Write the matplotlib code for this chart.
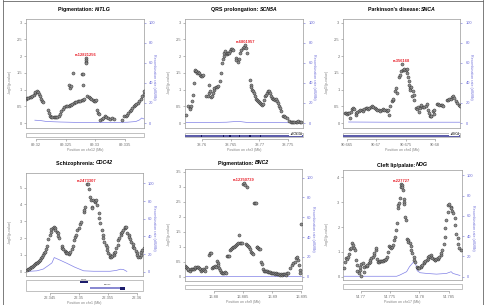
import numpy as np
import matplotlib.pyplot as plt
from matplotlib.patches import Rectangle
from matplotlib.lines import Line2D

plt.rcParams['font.family'] = ['Liberation Sans', 'DejaVu Sans']

# ---- KITLG (chr12) ----
kitlg_pos = [89.3183, 89.3185, 89.3187, 89.3190, 89.3192, 89.3194, 89.3196, 89.3198, 89.3199, 89.3201,
             89.3203, 89.3205, 89.3206, 89.3208, 89.3210, 89.3211,
             89.3220, 89.3222, 89.3223, 89.3225, 89.3227, 89.3230, 89.3232, 89.3234, 89.3236, 89.3239,
             89.3241, 89.3243, 89.3246, 89.3248, 89.3250, 89.3252, 89.3255, 89.3257, 89.3259, 89.3261,
             89.3264, 89.3266, 89.3268, 89.3271, 89.3273, 89.3275, 89.3277, 89.3280, 89.3281,
             89.3255, 89.3258, 89.3260, 89.3263, 89.3277, 89.3280, 89.3279, 89.3284, 89.3284, 89.3285, 89.3285,
             89.3286, 89.3289, 89.3291, 89.3293, 89.3296, 89.3298, 89.3300, 89.3302, 89.3304, 89.3305,
             89.3307, 89.3309, 89.3312, 89.3314, 89.3317, 89.3319, 89.3322, 89.3325, 89.3329, 89.3332,
             89.3345, 89.3349, 89.3352, 89.3354, 89.3356, 89.3359, 89.3361, 89.3363, 89.3366, 89.3368,
             89.3370, 89.3372, 89.3375, 89.3377, 89.3379, 89.3382, 89.3383]
kitlg_logp = [0.73, 0.75, 0.76, 0.77, 0.78, 0.80, 0.85, 0.90, 0.93, 0.95,
              0.93, 0.88, 0.80, 0.72, 0.67, 0.63,
              0.38, 0.30, 0.22, 0.18, 0.17, 0.17, 0.17, 0.17, 0.17, 0.20,
              0.28, 0.35, 0.42, 0.47, 0.50, 0.50, 0.52, 0.53, 0.55, 0.57,
              0.60, 0.62, 0.64, 0.65, 0.66, 0.67, 0.69, 0.70, 0.72,
              1.15, 1.05, 1.12, 1.50, 1.48, 1.47, 1.15, 1.95, 1.87, 1.83, 1.79,
              0.80, 0.78, 0.76, 0.73, 0.70, 0.67, 0.65, 0.70, 0.40, 0.30,
              0.27, 0.10, 0.12, 0.15, 0.20, 0.18, 0.15, 0.13, 0.14, 0.13,
              0.08, 0.20, 0.22, 0.25, 0.30, 0.35, 0.40, 0.45, 0.50, 0.55,
              0.58, 0.60, 0.65, 0.72, 0.80, 0.88, 0.95]
kitlg_rec_pos = [89.3198, 89.3207, 89.3218, 89.3241, 89.3269, 89.3298, 89.3326, 89.3355, 89.3369, 89.3375, 89.3379, 89.3383]
kitlg_rec = [2.8, 2.5, 1.5, 1.0, 0.6, 0.4, 0.5, 0.8, 1.5, 3.0, 5.0, 4.0]

# ---- SCN10A region (chr3) ----
scn_pos = [38.7573, 38.7576, 38.7579, 38.7580, 38.7581, 38.7583, 38.7584, 38.7586, 38.7588, 38.7589,
           38.7590, 38.7592, 38.7594, 38.7595, 38.7597, 38.7599, 38.7601, 38.7603, 38.7607, 38.7610,
           38.7612, 38.7613, 38.7614, 38.7616, 38.7617, 38.7619, 38.7621, 38.7622, 38.7624, 38.7626,
           38.7629, 38.7632, 38.7633, 38.7635, 38.7636, 38.7638, 38.7639, 38.7641, 38.7643, 38.7644,
           38.7646, 38.7648, 38.7649, 38.7651, 38.7653, 38.7655, 38.7659, 38.7660, 38.7662, 38.7664,
           38.7666, 38.7668, 38.7671, 38.7673, 38.7675, 38.7676, 38.7678, 38.7683, 38.7685, 38.7686,
           38.7687, 38.7689, 38.7691, 38.7693, 38.7694, 38.7696, 38.7698, 38.7699, 38.7701, 38.7703,
           38.7705, 38.7706, 38.7708, 38.7710, 38.7712, 38.7713, 38.7715, 38.7717, 38.7718, 38.7720,
           38.7722, 38.7724, 38.7725, 38.7727, 38.7729, 38.7731, 38.7732, 38.7734, 38.7736, 38.7737,
           38.7740, 38.7742, 38.7744, 38.7747, 38.7751, 38.7754, 38.7756, 38.7758, 38.7760, 38.7763,
           38.7765, 38.7767, 38.7770, 38.7772]
scn_logp = [0.25, 0.50, 0.45, 0.42, 0.52, 0.65, 0.85, 1.20, 1.55, 1.60,
            1.57, 1.50, 1.53, 1.50, 1.45, 1.42, 1.40, 1.45, 0.82, 0.80,
            0.90, 1.15, 0.95, 0.78, 0.82, 0.90, 1.00, 1.05, 1.08, 1.07,
            1.10, 1.25, 1.50, 1.80, 1.90, 2.00, 2.10, 2.15, 2.05, 2.10,
            2.08, 2.10, 2.15, 2.20, 2.20, 2.17, 1.95, 1.87, 1.82, 1.90,
            2.10, 2.17, 2.23, 2.28, 2.33, 2.23, 2.10, 1.30, 1.15, 1.07,
            1.00, 0.95, 0.90, 0.80, 0.72, 0.68, 0.65, 0.62, 0.60, 0.58,
            0.55, 0.58, 0.70, 0.80, 0.85, 0.90, 0.95, 0.97, 0.91, 0.80,
            0.75, 0.72, 0.72, 0.70, 0.72, 0.65, 0.60, 0.50, 0.45, 0.35,
            0.20, 0.20, 0.18, 0.15, 0.05, 0.03, 0.04, 0.03, 0.04, 0.03,
            0.04, 0.05, 0.04, 0.03]
scn_rec_pos = [38.7573, 38.7614, 38.7643, 38.7658, 38.7666, 38.7678, 38.7718, 38.7775]
scn_rec = [0.5, 0.5, 0.8, 1.5, 1.5, 0.6, 0.4, 0.3]
scn_exons = [38.7600, 38.7637, 38.7649, 38.7666, 38.7682, 38.7684, 38.7701]

# ---- SNCA (chr4) ----
snca_pos = [90.6647, 90.6649, 90.6651, 90.6652, 90.6654, 90.6656, 90.6657, 90.6659, 90.6661, 90.6662,
            90.6665, 90.6666, 90.6668, 90.6670, 90.6673, 90.6675, 90.6677, 90.6679, 90.6682, 90.6684,
            90.6686, 90.6688, 90.6691, 90.6693, 90.6695, 90.6698, 90.6700, 90.6702, 90.6704, 90.6707,
            90.6709, 90.6711, 90.6713, 90.6716, 90.6718, 90.6720, 90.6722, 90.6724, 90.6726, 90.6728,
            90.6729, 90.6732, 90.6734, 90.6736, 90.6738, 90.6740, 90.6742, 90.6743, 90.6745, 90.6747,
            90.6748, 90.6750, 90.6752, 90.6753, 90.6754, 90.6755, 90.6756, 90.6757, 90.6758, 90.6759,
            90.6760, 90.6762, 90.6764, 90.6765, 90.6767, 90.6769, 90.6771, 90.6772, 90.6774, 90.6776,
            90.6777, 90.6779, 90.6781, 90.6784, 90.6786, 90.6788, 90.6789, 90.6791, 90.6793, 90.6794,
            90.6796, 90.6798, 90.6799, 90.6803, 90.6805, 90.6807, 90.6810, 90.6812, 90.6814, 90.6820,
            90.6822, 90.6824, 90.6827, 90.6829, 90.6831, 90.6833, 90.6836, 90.6838, 90.6840, 90.6842]
snca_logp = [0.30, 0.30, 0.28, 0.29, 0.30, 0.15, 0.32, 0.42, 0.45, 0.42,
             0.25, 0.30, 0.32, 0.35, 0.38, 0.40, 0.35, 0.42, 0.45, 0.44,
             0.42, 0.45, 0.48, 0.50, 0.48, 0.45, 0.42, 0.40, 0.38, 0.35,
             0.40, 0.42, 0.38, 0.40, 0.35, 0.40, 0.25, 0.50, 0.65, 0.70,
             0.72, 0.95, 1.05, 0.90, 1.38, 1.45, 1.55, 1.77, 1.60, 1.60,
             1.62, 1.60, 1.62, 1.50, 1.38, 1.25, 1.15, 1.05, 1.00, 1.08,
             0.82, 0.95, 0.70, 0.85, 0.45, 0.42, 0.48, 0.32, 0.45, 0.50,
             0.55, 0.47, 0.48, 0.50, 0.58, 0.40, 0.30, 0.20, 0.22, 0.20,
             0.35, 0.40, 0.27, 0.58, 0.58, 0.55, 0.55, 0.55, 0.50, 0.68,
             0.70, 0.72, 0.73, 0.78, 0.80, 0.75, 0.65, 0.60, 0.55, 0.50]
snca_rec_pos = [90.6653, 90.6718, 90.6775, 90.6842]
snca_rec = [1.0, 0.8, 0.8, 0.8]

# ---- CDC42 (chr1) ----
cdc42_pos = [22.3410, 22.3411, 22.3413, 22.3415, 22.3417, 22.3418, 22.3420, 22.3422, 22.3423, 22.3425,
             22.3427, 22.3429, 22.3430, 22.3432, 22.3434, 22.3436, 22.3437, 22.3439, 22.3441, 22.3442,
             22.3444, 22.3447, 22.3449, 22.3451, 22.3452, 22.3454, 22.3456, 22.3458, 22.3459, 22.3461,
             22.3463, 22.3464, 22.3466, 22.3470, 22.3471, 22.3473, 22.3475, 22.3477, 22.3478, 22.3480,
             22.3482, 22.3483, 22.3485, 22.3487, 22.3489, 22.3492, 22.3493, 22.3495, 22.3497, 22.3500,
             22.3502, 22.3504, 22.3508, 22.3509, 22.3511, 22.3513, 22.3515, 22.3517, 22.3519, 22.3520,
             22.3522, 22.3523, 22.3525, 22.3527, 22.3528, 22.3530, 22.3532, 22.3534, 22.3535, 22.3537,
             22.3539, 22.3541, 22.3542, 22.3544, 22.3546, 22.3548, 22.3549, 22.3551, 22.3553, 22.3554,
             22.3556, 22.3558, 22.3560, 22.3561, 22.3563, 22.3565, 22.3567, 22.3568, 22.3570, 22.3572,
             22.3573, 22.3575, 22.3577, 22.3579, 22.3580, 22.3582, 22.3584, 22.3586, 22.3587, 22.3589,
             22.3591, 22.3593, 22.3594, 22.3596, 22.3598, 22.3600, 22.3601, 22.3603, 22.3605, 22.3607,
             22.3608, 22.3610, 22.3612]
cdc42_logp = [0.10, 0.14, 0.16, 0.20, 0.26, 0.30, 0.36, 0.40, 0.44, 0.50,
              0.54, 0.60, 0.63, 0.70, 0.80, 0.90, 1.00, 1.10, 1.20, 1.33,
              1.50, 1.92, 2.18, 2.38, 2.52, 2.62, 2.64, 2.58, 2.48, 2.38,
              2.28, 2.12, 1.98, 1.50, 1.40, 1.33, 1.25, 1.17, 1.13, 1.10,
              1.07, 1.10, 1.20, 1.33, 1.50, 1.88, 2.08, 2.18, 2.48, 2.58,
              2.84, 2.98, 3.57, 3.70, 3.87, 5.22, 5.22, 4.90, 4.46, 4.27,
              3.87, 3.81, 4.27, 4.17, 4.23, 4.27, 3.97, 3.47, 3.17, 2.88,
              2.48, 2.18, 1.98, 1.79, 1.59, 1.45, 1.29, 1.09, 0.99, 0.89,
              0.89, 0.93, 0.99, 1.09, 1.19, 1.39, 1.59, 1.88, 1.98, 2.18,
              2.28, 2.38, 2.48, 2.58, 2.64, 2.68, 2.32, 2.18, 2.04, 1.92,
              1.79, 1.65, 1.49, 1.39, 1.25, 1.09, 0.99, 0.89, 0.89, 0.99,
              1.19, 1.29, 1.39]
cdc42_rec_pos = [22.3410, 22.3427, 22.3438, 22.3449, 22.3453, 22.3457, 22.3464, 22.3479,
                 22.3493, 22.3508, 22.3525, 22.3554, 22.3565, 22.3572, 22.3577, 22.3583]
cdc42_rec = [0.3, 1.0, 3.0, 8.0, 10.0, 16.0, 14.0, 9.5, 5.0, 1.0, 0.5, 0.5, 1.5, 2.8, 2.5, 0.3]
cdc42_genes = ['WNT4', 'CDC42']
cdc42_gene_start = [22.3502, 22.3519]
cdc42_gene_end = [22.3516, 22.3580]

# ---- BNC2 (chr9) ----
bnc2_pos = [16.8750, 16.8751, 16.8753, 16.8755, 16.8756, 16.8758, 16.8760, 16.8762, 16.8763, 16.8765,
            16.8767, 16.8768, 16.8770, 16.8772, 16.8774, 16.8775, 16.8777, 16.8779, 16.8781, 16.8782,
            16.8784, 16.8786, 16.8791, 16.8793, 16.8794, 16.8797, 16.8798, 16.8800, 16.8802, 16.8803,
            16.8805, 16.8807, 16.8807, 16.8809, 16.8810, 16.8812, 16.8814, 16.8815, 16.8817, 16.8819,
            16.8821, 16.8822, 16.8824, 16.8826, 16.8827, 16.8829, 16.8830, 16.8832, 16.8834, 16.8836,
            16.8837, 16.8839, 16.8841, 16.8842, 16.8844, 16.8846, 16.8848, 16.8849, 16.8851, 16.8853,
            16.8856, 16.8855, 16.8857, 16.8858, 16.8860, 16.8862, 16.8864, 16.8865, 16.8867, 16.8869,
            16.8870, 16.8872, 16.8873, 16.8874, 16.8876, 16.8877, 16.8879, 16.8881, 16.8883, 16.8884,
            16.8885, 16.8887, 16.8889, 16.8891, 16.8892, 16.8894, 16.8896, 16.8898, 16.8899, 16.8901,
            16.8903, 16.8904, 16.8906, 16.8908, 16.8909, 16.8911, 16.8913, 16.8915, 16.8916, 16.8918,
            16.8920, 16.8921, 16.8923, 16.8925, 16.8927, 16.8930, 16.8933, 16.8936, 16.8939, 16.8940,
            16.8942, 16.8944, 16.8946, 16.8947, 16.8948, 16.8950]
bnc2_logp = [0.36, 0.31, 0.28, 0.22, 0.25, 0.20, 0.25, 0.27, 0.25, 0.27,
             0.28, 0.31, 0.33, 0.33, 0.30, 0.25, 0.20, 0.22, 0.27, 0.22,
             0.20, 0.31, 0.71, 0.78, 0.80, 0.28, 0.31, 0.33, 0.36, 0.31,
             0.52, 0.47, 0.39, 0.28, 0.22, 0.17, 0.14, 0.13, 0.13, 0.16,
             0.14, 0.69, 0.69, 0.70, 0.89, 0.93, 0.97, 1.00, 1.00, 1.04,
             1.06, 1.08, 1.11, 1.38, 1.11, 1.14, 1.14, 3.09, 3.12, 3.07,
             2.99, 1.09, 1.06, 1.03, 0.98, 0.91, 0.84, 0.78, 0.76, 2.47,
             2.47, 2.45, 0.98, 1.00, 0.97, 0.94, 0.91, 0.50, 0.42, 0.25,
             0.20, 0.19, 0.19, 0.18, 0.17, 0.16, 0.16, 0.13, 0.14, 0.11,
             0.13, 0.09, 0.11, 0.09, 0.08, 0.09, 0.07, 0.08, 0.07, 0.09,
             0.08, 0.09, 0.07, 0.11, 0.13, 0.28, 0.39, 0.45, 0.50, 0.61,
             0.65, 0.56, 0.39, 0.22, 0.13, 1.76]
bnc2_rec_pos = [16.8750, 16.8850, 16.8950]
bnc2_rec = [0.5, 0.5, 0.5]

# ---- NOG (chr17) ----
nog_pos = [54.7671, 54.7673, 54.7674, 54.7676, 54.7678, 54.7680, 54.7681, 54.7683, 54.7685, 54.7686,
           54.7688, 54.7690, 54.7691, 54.7693, 54.7694, 54.7696, 54.7698, 54.7699, 54.7700, 54.7701,
           54.7703, 54.7705, 54.7706, 54.7708, 54.7710, 54.7711, 54.7713, 54.7715, 54.7716, 54.7718,
           54.7720, 54.7722, 54.7723, 54.7725, 54.7726, 54.7728, 54.7730, 54.7731, 54.7733, 54.7735,
           54.7736, 54.7738, 54.7740, 54.7741, 54.7743, 54.7745, 54.7747, 54.7748, 54.7750, 54.7752,
           54.7753, 54.7755, 54.7757, 54.7759, 54.7760, 54.7762, 54.7763, 54.7764, 54.7765, 54.7766,
           54.7768, 54.7769, 54.7770, 54.7771, 54.7772, 54.7773, 54.7774, 54.7774, 54.7776, 54.7777,
           54.7778, 54.7780, 54.7781, 54.7783, 54.7785, 54.7786, 54.7788, 54.7790, 54.7791, 54.7793,
           54.7795, 54.7797, 54.7798, 54.7800, 54.7802, 54.7803, 54.7805, 54.7807, 54.7808, 54.7810,
           54.7812, 54.7814, 54.7815, 54.7817, 54.7819, 54.7820, 54.7822, 54.7824, 54.7826, 54.7827,
           54.7829, 54.7831, 54.7832, 54.7834, 54.7836, 54.7837, 54.7839, 54.7841, 54.7843, 54.7844,
           54.7846, 54.7848, 54.7849, 54.7851, 54.7853, 54.7854, 54.7856, 54.7858, 54.7860, 54.7861,
           54.7863, 54.7865, 54.7866, 54.7868, 54.7870]
nog_logp = [0.34, 0.60, 0.74, 0.70, 0.78, 0.91, 1.10, 1.14, 1.37, 1.28,
            1.14, 1.07, 0.67, 0.47, 0.24, 0.16, 0.27, 0.38, 0.03, 0.51,
            0.54, 0.20, 0.38, 0.43, 0.43, 0.47, 0.54, 0.60, 0.67, 0.74,
            0.81, 0.87, 0.94, 1.07, 1.17, 0.70, 0.60, 0.59, 0.62, 0.63,
            0.62, 0.64, 0.67, 0.67, 0.70, 0.81, 1.01, 1.23, 1.21, 1.17,
            1.21, 1.28, 1.48, 1.61, 1.88, 2.15, 2.75, 2.89, 2.98, 3.19,
            3.62, 3.72, 3.69, 3.60, 3.49, 3.15, 3.02, 2.95, 2.42, 2.28,
            1.54, 1.48, 1.41, 1.34, 1.25, 1.07, 0.94, 0.81, 0.67, 0.60,
            0.38, 0.34, 0.34, 0.35, 0.38, 0.43, 0.47, 0.54, 0.59, 0.64,
            0.67, 0.72, 0.78, 0.83, 0.87, 0.81, 0.74, 0.70, 0.67, 0.67,
            0.70, 0.72, 0.75, 0.81, 0.87, 0.94, 1.07, 1.32, 1.61, 1.95,
            2.28, 2.62, 2.89, 2.93, 2.82, 2.75, 2.66, 2.55, 2.35, 2.08,
            1.74, 1.58, 1.32, 1.14, 1.07]
nog_rec_pos = [54.7671, 54.7761, 54.7766, 54.7778, 54.7783, 54.7789, 54.7792, 54.7794,
               54.7796, 54.7801, 54.7812, 54.7829, 54.7846, 54.7854, 54.7857, 54.7869]
nog_rec = [0.5, 0.5, 1.6, 5.0, 10.0, 14.0, 15.0, 11.5, 6.0, 4.0, 3.3, 2.6, 3.3, 5.0, 3.3, 1.3]

W, H = 487, 305
fig = plt.figure(figsize=(W / 100, H / 100), dpi=100)


def px_box(x0, y0, x1, y1):
    return [x0 / W, 1 - y1 / H, (x1 - x0) / W, (y1 - y0) / H]


panels = [
    dict(prefix='Pigmentation: ', gene='KITLG', chrom='chr12', pos=kitlg_pos, logp=kitlg_logp,
         rpos=kitlg_rec_pos, rate=kitlg_rec, snp='rs12821256', track=None,
         xlim=(89.3183, 89.3382), xticks=[89.32, 89.325, 89.33, 89.335],
         ylim=(-0.14, 3.11), yticks=[0, 0.5, 1, 1.5, 2, 2.5, 3], ytop=3.0,
         box=(26, 19, 143.5, 127.7), gbox=(26, 132.7, 143.5, 137.2), ty=9.5),
    dict(prefix='QRS prolongation: ', gene='SCN5A', chrom='chr3', pos=scn_pos, logp=scn_logp,
         rpos=scn_rec_pos, rate=scn_rec, snp='rs6801957', track='scn',
         xlim=(38.7571, 38.7776), xticks=[38.76, 38.765, 38.77, 38.775],
         ylim=(-0.14, 3.11), yticks=[0, 0.5, 1, 1.5, 2, 2.5, 3], ytop=3.0,
         box=(185, 19, 303.3, 127.7), gbox=(185, 132.7, 303.3, 137.2), ty=9.5),
    dict(prefix="Parkinson's disease: ", gene='SNCA', chrom='chr4', pos=snca_pos, logp=snca_logp,
         rpos=snca_rec_pos, rate=snca_rec, snp='rs356168', track='snca',
         xlim=(90.6644, 90.6843), xticks=[90.665, 90.67, 90.675, 90.68],
         ylim=(-0.14, 3.11), yticks=[0, 0.5, 1, 1.5, 2, 2.5, 3], ytop=3.0,
         box=(343.3, 19, 460.3, 127.7), gbox=(343.3, 132.7, 460.3, 137.2), ty=9.5),
    dict(prefix='Schizophrenia: ', gene='CDC42', chrom='chr1', pos=cdc42_pos, logp=cdc42_logp,
         rpos=cdc42_rec_pos, rate=cdc42_rec, snp='rs2473307', track='cdc42',
         xlim=(22.3408, 22.3611), xticks=[22.345, 22.35, 22.355, 22.36],
         ylim=(-0.256, 5.875), yticks=[0, 1, 2, 3, 4, 5], ytop=5.26,
         box=(26, 173, 143, 276), gbox=(26, 279.5, 143, 290.5), ty=163),
    dict(prefix='Pigmentation: ', gene='BNC2', chrom='chr9', pos=bnc2_pos, logp=bnc2_logp,
         rpos=bnc2_rec_pos, rate=bnc2_rec, snp='rs12350739', track=None,
         xlim=(16.8750, 16.8951), xticks=[16.88, 16.885, 16.89, 16.895],
         ylim=(-0.144, 3.60), yticks=[0, 0.5, 1, 1.5, 2, 2.5, 3, 3.5], ytop=3.31,
         box=(185, 169, 302, 281), gbox=(185, 285, 302, 289.3), ty=163),
    dict(prefix='Cleft lip/palate: ', gene='NOG', chrom='chr17', pos=nog_pos, logp=nog_logp,
         rpos=nog_rec_pos, rate=nog_rec, snp='rs227727', track=None,
         xlim=(54.7670, 54.7872), xticks=[54.77, 54.775, 54.78, 54.785],
         ylim=(-0.13, 4.30), yticks=[0, 1, 2, 3, 4], ytop=4.09,
         box=(343.3, 170, 461.7, 280), gbox=(343.3, 284, 461.7, 289), ty=165),
]

grey = '#808080'
blue = '#6c6cd8'
renderer = fig.canvas.get_renderer()

for pn in panels:
    x0, y0, x1, y1 = pn['box']
    ax = fig.add_axes(px_box(*pn['box']))
    axr = ax.twinx()
    ax.set_zorder(axr.get_zorder() + 1)
    ax.patch.set_visible(False)

    ax.scatter(pn['pos'], pn['logp'], s=5, facecolor='#8e8e8e', edgecolor='#2a2a2a',
               linewidth=0.3, zorder=3)
    i = int(np.argmax(pn['logp']))
    ax.annotate(pn['snp'], (pn['pos'][i], pn['logp'][i]), xytext=(0, 2.3),
                textcoords='offset points', ha='center', va='center',
                fontsize=2.9, color='#e8202a', fontweight='bold')
    ax.set_xlim(pn['xlim'])
    ax.set_ylim(pn['ylim'])
    ax.set_xticks([])
    ax.set_yticks(pn['yticks'])
    ax.set_yticklabels([f'{v:g}' for v in pn['yticks']])
    ax.tick_params(axis='y', labelsize=2.9, length=1.5, width=0.4, pad=1.2,
                   color=grey, labelcolor='#707070')
    for s in ax.spines.values():
        s.set_color('#999999')
        s.set_linewidth(0.5)
    ax.set_ylabel('-log$_{10}$(p-value)', fontsize=2.6, color=grey)
    ax.yaxis.set_label_coords(-10 / (x1 - x0) - 0.02, 0.42)

    k = 100 / pn['ytop']
    axr.set_ylim(pn['ylim'][0] * k, pn['ylim'][1] * k)
    axr.plot(pn['rpos'], pn['rate'], color='#8080e6', lw=0.5)
    axr.set_yticks([0, 20, 40, 60, 80, 100])
    axr.tick_params(axis='y', labelsize=2.9, length=1.5, width=0.4, pad=2.2,
                    color=blue, labelcolor=blue)
    axr.set_ylabel('Recombination rate (cM/Mb)', fontsize=2.6, color=blue, rotation=270)
    axr.yaxis.set_label_coords(1 + 13 / (x1 - x0), 0.47)
    for s in axr.spines.values():
        s.set_visible(False)

    # gene track + position axis
    g = fig.add_axes(px_box(*pn['gbox']))
    g.set_xlim(pn['xlim'])
    g.set_ylim(0, 1)
    g.set_yticks([])
    for side in ['top', 'left', 'right']:
        g.spines[side].set_visible(False)
    g.add_patch(Rectangle((0, 0), 1, 1, transform=g.transAxes, fill=False,
                          edgecolor='#a8a8a8', lw=0.5, clip_on=False))
    g.spines['bottom'].set_position(('outward', 1.5))
    g.spines['bottom'].set_bounds(pn['xticks'][0], pn['xticks'][-1])
    g.spines['bottom'].set_color(grey)
    g.spines['bottom'].set_linewidth(0.4)
    g.set_xticks(pn['xticks'])
    g.set_xticklabels([f'{v:g}' for v in pn['xticks']])
    g.tick_params(axis='x', labelsize=2.9, length=1.5, width=0.4, pad=1,
                  color=grey, labelcolor='#707070')
    g.set_xlabel(f"Position on {pn['chrom']} (Mb)", fontsize=2.6, color=grey, labelpad=0.8)

    xa, xb = pn['xlim']
    if pn['track'] == 'scn':
        g.add_patch(Rectangle((xa, 0), xb - xa, 0.42, color='#5d5daa', lw=0))
        for e in scn_exons:
            g.add_patch(Rectangle((e - 0.00009, 0), 0.00018, 0.42, color='#15155a', lw=0))
        g.text(xb - 0.0002, 0.72, '\u25c4SCN10A', fontsize=1.9, ha='right', va='center',
               bbox=dict(fc='white', ec='none', pad=0.2))
    elif pn['track'] == 'snca':
        g.add_patch(Rectangle((xa, 0), xb - xa, 0.42, color='#5d5daa', lw=0))
        g.text(xb - 0.0002, 0.72, '\u25c4SNCA', fontsize=1.9, ha='right', va='center',
               bbox=dict(fc='white', ec='none', pad=0.2))
    elif pn['track'] == 'cdc42':
        g.add_patch(Rectangle((cdc42_gene_start[0], 0.72), cdc42_gene_end[0] - cdc42_gene_start[0],
                              0.14, color='#1c1c6c', lw=0))
        g.text((cdc42_gene_start[0] + cdc42_gene_end[0]) / 2, 0.97, cdc42_genes[0],
               fontsize=1.6, ha='center', va='center', color='#222')
        g.add_patch(Rectangle((cdc42_gene_start[1], 0.12), cdc42_gene_end[1] - cdc42_gene_start[1],
                              0.18, color='#8a8ad2', lw=0))
        g.add_patch(Rectangle((cdc42_gene_end[1] - 0.0009, 0.06), 0.0009, 0.3, color='#1c1c6c', lw=0))
        g.text((cdc42_gene_start[1] + cdc42_gene_end[1]) / 2, 0.52, cdc42_genes[1],
               fontsize=1.6, ha='center', va='center', color='#222')

    # title: plain bold + italic bold gene name, centred over the plot box
    cx = (x0 + x1) / 2 / W
    yf = 1 - pn['ty'] / H
    t1 = fig.text(0, yf, pn['prefix'], fontsize=3.8, fontweight='bold', va='center')
    t2 = fig.text(0, yf, pn['gene'], fontsize=3.8, fontweight='bold', style='italic', va='center')
    w1 = t1.get_window_extent(renderer).width / W
    w2 = t2.get_window_extent(renderer).width / W
    t1.set_x(cx - (w1 + w2) / 2)
    t2.set_x(cx - (w1 + w2) / 2 + w1)

# outer frame lines
for (xs, ys) in [((3, 3), (0, H)), ((483, 483), (0, H)), ((3, 483), (1, 1))]:
    fig.add_artist(Line2D([x / W for x in xs], [1 - y / H for y in ys], color='#666666', lw=0.6))

fig.savefig('out.png', dpi=100)
